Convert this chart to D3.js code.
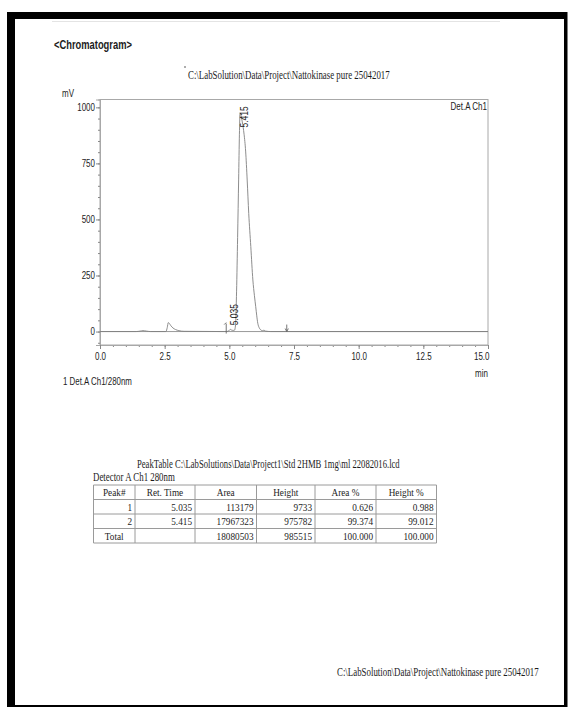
<!DOCTYPE html>
<html>
<head>
<meta charset="utf-8">
<script src="https://cdn.jsdelivr.net/npm/d3@7"></script>
<style>
  html, body { margin: 0; padding: 0; background: #fff; }
  svg { display: block; }
</style>
</head>
<body>
<div id="chart"></div>
<script>
// Detector trace (time in min, signal in mV)
const timeMin = [0.00, 1.40, 1.55, 1.66, 1.80, 1.95, 2.55, 2.60, 2.64, 2.68, 2.74, 2.82, 2.92, 3.05, 3.25,
  4.80, 4.95, 5.00, 5.035, 5.08, 5.15, 5.20, 5.24, 5.28, 5.32, 5.36, 5.39, 5.415,
  5.45, 5.50, 5.57, 5.63, 5.69, 5.75, 5.83, 5.91, 5.97,
  6.02, 6.06, 6.10, 6.15, 6.20, 6.28, 6.34, 6.40, 6.60, 15.00];
const signalMV = [0, 0, 2, 4, 2, 0, 0, 18, 40, 36, 26, 16, 9, 4, 1,
  0, 1, 6, 9.7, 7, 5, 6, 30, 180, 420, 680, 880, 975.8,
  965, 935, 880, 805, 676, 527, 379, 230, 160,
  111, 70, 37, 18, 9, 4, 6, 2, 0, 0];

// Integration event marks (min)
const startMarks = [4.88];
const endMarks = [7.22];

// Peak table
const peakNo = ["1", "2"];
const retTime = [5.035, 5.415];
const peakArea = [113179, 17967323];
const peakHeight = [9733, 975782];
const areaPct = [0.626, 99.374];
const heightPct = [0.988, 99.012];
const totalArea = 18080503;
const totalHeight = 985515;
const tableHeaders = ["Peak#", "Ret. Time", "Area", "Height", "Area %", "Height %"];

// Axis ticks
const yTicks = [0, 250, 500, 750, 1000];
const xTicks = [0, 2.5, 5, 7.5, 10, 12.5, 15];

const fileTitle = "C:\\LabSolution\\Data\\Project\\Nattokinase pure 25042017";
const tableTitle = "PeakTable C:\\LabSolutions\\Data\\Project1\\Std 2HMB 1mg\\ml 22082016.lcd";

const W = 568, H = 707;
const SANS = "'Liberation Sans',Arial,sans-serif";
const SERIF = "'Liberation Serif','Times New Roman',serif";
const INK = "#1c1c1c";
const GRID = "#9a9a9a";
const NARROW = 0.8;   // horizontal squeeze for the condensed report fonts

const svg = d3.select("#chart").append("svg")
  .attr("width", W).attr("height", H);

// text placed at (x, y) and squeezed horizontally about its anchor
function squeezed(parent, x0, y0, str, opts) {
  const g = parent.append("g").attr("transform", `translate(${x0},${y0})`);
  const t = g.append("text")
    .attr("font-family", opts.family).attr("font-size", opts.size)
    .attr("font-weight", opts.weight || "normal")
    .attr("text-anchor", opts.anchor || "start")
    .attr("fill", INK).text(str);
  let sx = opts.sx || NARROW;
  if (opts.width) sx = opts.width / t.node().getComputedTextLength();
  t.attr("transform", `${opts.rotate ? `rotate(${opts.rotate}) ` : ""}scale(${sx},1)`);
  return t;
}

// page frame
svg.append("rect").attr("x", 0).attr("y", 0).attr("width", W).attr("height", H).attr("fill", "#fff");
svg.append("rect").attr("x", 7).attr("y", 12).attr("width", 560.5).attr("height", 695).attr("fill", "#000");
svg.append("rect").attr("x", 15).attr("y", 19).attr("width", 549).attr("height", 686).attr("fill", "#fff");
svg.append("line").attr("x1", 52).attr("x2", 500).attr("y1", 21.5).attr("y2", 21.5)
  .attr("stroke", "#e4e4e4").attr("stroke-width", 1);

squeezed(svg, 54, 49, "<Chromatogram>", { family: SANS, size: 12, weight: "bold", width: 78 });

svg.append("circle").attr("cx", 185).attr("cy", 67).attr("r", 0.8).attr("fill", "#444");
squeezed(svg, 188, 79, fileTitle, { family: SERIF, size: 13.5, width: 202 });

// plot area
const plot = { left: 100, right: 488, top: 99.5, bottom: 345 };
const x = d3.scaleLinear().domain([0, 15]).range([plot.left, plot.right]);
const y = d3.scaleLinear().domain([-60, 1035]).range([plot.bottom, plot.top]);

svg.append("rect")
  .attr("x", plot.left).attr("y", plot.top)
  .attr("width", plot.right - plot.left).attr("height", plot.bottom - plot.top)
  .attr("fill", "none").attr("stroke", "#a8a8a8").attr("stroke-width", 1);

// y axis
const yMinor = svg.append("g").attr("transform", `translate(${plot.left},0)`)
  .call(d3.axisLeft(y).tickValues(d3.range(-50, 1001, 50)).tickSize(2).tickFormat(""));
const yMajor = svg.append("g").attr("transform", `translate(${plot.left},0)`)
  .call(d3.axisLeft(y).tickValues(yTicks).tickSize(4).tickPadding(1).tickFormat(d3.format("d")));
[yMinor, yMajor].forEach(g => {
  g.select(".domain").attr("stroke", "#a8a8a8");
  g.selectAll(".tick line").attr("stroke", "#888");
});
yMajor.selectAll("text")
  .attr("font-family", SANS).attr("font-size", 10).attr("fill", INK)
  .attr("x", -5 / NARROW).attr("transform", `scale(${NARROW},1)`);

// x axis
const xMinor = svg.append("g").attr("transform", `translate(0,${plot.bottom})`)
  .call(d3.axisBottom(x).tickValues(d3.range(0, 15.01, 0.5)).tickSize(2).tickFormat(""));
const xMajor = svg.append("g").attr("transform", `translate(0,${plot.bottom})`)
  .call(d3.axisBottom(x).tickValues(xTicks).tickSize(4).tickPadding(4).tickFormat(d3.format(".1f")));
[xMinor, xMajor].forEach(g => {
  g.select(".domain").attr("stroke", "#a8a8a8");
  g.selectAll(".tick line").attr("stroke", "#888");
});
xMajor.selectAll("text")
  .attr("font-family", SANS).attr("font-size", 10).attr("fill", INK)
  .attr("transform", `scale(${NARROW},1)`);
xMajor.selectAll(".tick").filter(d => d === 15).select("text")
  .attr("text-anchor", "end").attr("x", 1 / NARROW);

squeezed(svg, plot.right, 377, "min", { family: SANS, size: 10, anchor: "end" });
squeezed(svg, 62, 97, "mV", { family: SANS, size: 10 });
squeezed(svg, plot.right - 1, 110, "Det.A Ch1", { family: SANS, size: 10, anchor: "end" });

// baseline
svg.append("line")
  .attr("x1", plot.left).attr("x2", plot.right)
  .attr("y1", y(0)).attr("y2", y(0))
  .attr("stroke", "#9a9a9a").attr("stroke-width", 1);

// trace
const pts = timeMin.map((t, i) => [t, signalMV[i]]);
svg.append("path")
  .datum(pts)
  .attr("fill", "none").attr("stroke", "#808080").attr("stroke-width", 0.9)
  .attr("d", d3.line().x(d => x(d[0])).y(d => y(d[1])).curve(d3.curveMonotoneX));

// integration marks
startMarks.forEach(t => {
  svg.append("path")
    .attr("d", `M${x(t)},${y(0) + 2}V${y(0) - 8}M${x(t) - 2},${y(0) - 7}L${x(t)},${y(0) - 9}`)
    .attr("fill", "none").attr("stroke", "#666").attr("stroke-width", 0.9);
});
endMarks.forEach(t => {
  svg.append("path")
    .attr("d", `M${x(t)},${y(0) - 7}V${y(0)}M${x(t) - 1.6},${y(0) - 3}L${x(t)},${y(0)}L${x(t) + 1.6},${y(0) - 3}`)
    .attr("fill", "none").attr("stroke", "#666").attr("stroke-width", 0.9);
});

// peak retention-time labels
retTime.forEach((rt, i) => {
  const h = peakHeight[i] / 1000;
  const by = Math.max(y(h) - 4, plot.top + 28);
  squeezed(svg, x(rt) + 8, by, rt.toFixed(3), { family: SANS, size: 10, rotate: -90, sx: 0.85 });
});

squeezed(svg, 63, 385, "1 Det.A Ch1/280nm", { family: SANS, size: 10, width: 69 });

// peak table
squeezed(svg, 137, 468, tableTitle, { family: SERIF, size: 11.5, width: 263 });
squeezed(svg, 93, 481, "Detector A Ch1 280nm", { family: SERIF, size: 11.5, width: 82 });

const colEdges = [93.5, 135, 195, 256.5, 315, 376, 436.5];
const rowEdges = [485, 499.5, 514, 528.5, 543];
const tbl = svg.append("g");
colEdges.forEach(cx => tbl.append("line")
  .attr("x1", cx).attr("x2", cx).attr("y1", rowEdges[0]).attr("y2", rowEdges[rowEdges.length - 1])
  .attr("stroke", GRID).attr("stroke-width", 1));
rowEdges.forEach(ry => tbl.append("line")
  .attr("x1", colEdges[0]).attr("x2", colEdges[colEdges.length - 1]).attr("y1", ry).attr("y2", ry)
  .attr("stroke", GRID).attr("stroke-width", 1));

const cellText = (col, row, str, anchor) => {
  const yy = rowEdges[row] + 11;
  const xx = anchor === "middle" ? (colEdges[col] + colEdges[col + 1]) / 2 : colEdges[col + 1] - 3;
  squeezed(tbl, xx, yy, str, { family: SERIF, size: 11, anchor: anchor, sx: 0.84 });
};
tableHeaders.forEach((hd, c) => cellText(c, 0, hd, "middle"));
peakNo.forEach((p, i) => {
  const r = i + 1;
  cellText(0, r, p, "end");
  cellText(1, r, retTime[i].toFixed(3), "end");
  cellText(2, r, String(peakArea[i]), "end");
  cellText(3, r, String(peakHeight[i]), "end");
  cellText(4, r, areaPct[i].toFixed(3), "end");
  cellText(5, r, heightPct[i].toFixed(3), "end");
});
cellText(0, 3, "Total", "middle");
cellText(2, 3, String(totalArea), "end");
cellText(3, 3, String(totalHeight), "end");
cellText(4, 3, d3.sum(areaPct).toFixed(3), "end");
cellText(5, 3, d3.sum(heightPct).toFixed(3), "end");

// footer
squeezed(svg, 337, 676, fileTitle, { family: SERIF, size: 13.5, width: 202 });
</script>
</body>
</html>
